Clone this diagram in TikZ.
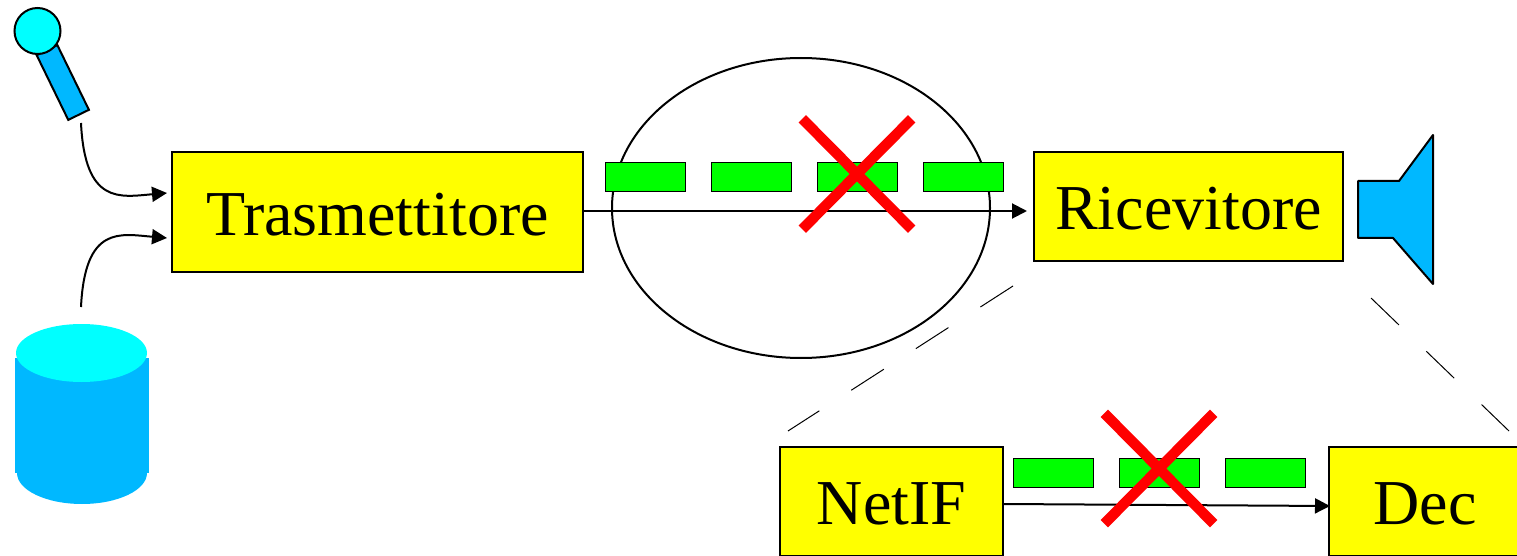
\documentclass[tikz,border=0pt]{standalone}
\usepackage{fontspec}
\setmainfont{Liberation Serif}
\usetikzlibrary{positioning}
\usetikzlibrary{arrows.meta}
\usetikzlibrary{shapes.geometric}
\usetikzlibrary{shapes.misc}
\definecolor{micblue}{HTML}{00B8FF}
\definecolor{headcyan}{HTML}{00FFFF}
\definecolor{boxyellow}{HTML}{FFFF00}
\definecolor{pktgreen}{HTML}{00FF00}
\definecolor{crossred}{HTML}{FF0000}
\tikzset{%
  flow/.style = {-{Triangle[length=7.5pt,width=7.5pt]},line width=1pt},
  box/.style = {rectangle,draw,fill=boxyellow,line width=1pt,outer sep=0pt,
        text height=23pt,text depth=0pt,
        font=\fontsize{32}{38}\selectfont},
  packet/.style = {rectangle,draw,fill=pktgreen,line width=0.5pt,outer sep=0pt,
        minimum width=40pt,minimum height=14.5pt},
  lost/.style = {cross out,draw=crossred,line width=5.2pt,inner sep=0pt,
        minimum width=49.5pt,minimum height=50pt},
  zoomline/.style = {line width=0.5pt,dash pattern=on 19.4pt off 19pt}
}

\begin{document}
\begin{tikzpicture}[x=0.5pt,y=-0.5pt,node distance=13pt]
   \useasboundingbox (0,0) rectangle (1517,556);

   % microphone
   \node[rectangle,draw,fill=micblue,line width=1pt,rotate=-64,minimum width=36pt,
        minimum height=11.5pt] (handle) at (62.8,82.5) {};
   \node[circle,draw,fill=headcyan,line width=1pt,minimum size=23pt,inner sep=0pt] (head) at (37.5,31) {};

   % disk
   \node[ellipse,fill=micblue,minimum width=65pt,minimum height=31pt,inner sep=0pt] (diskbottom) at (82,473) {};
   \node[rectangle,fill=micblue,minimum width=67pt,minimum height=57.5pt,inner sep=0pt] (diskbody) at (82,415.5) {};
   \node[ellipse,fill=headcyan,minimum width=65.5pt,minimum height=29pt,inner sep=0pt] (disktop) at (81.5,353) {};

   % channel
   \node[ellipse,draw,line width=1pt,minimum width=189pt,minimum height=150pt,inner sep=0pt] (net) at (801,208) {};

   \node[box,minimum width=205.5pt,minimum height=60pt] (tx) at (377.5,212) {Trasmettitore};
   \node[box,minimum width=154.5pt,minimum height=54.5pt] (rx) at (1188.5,206.5) {Ricevitore};
   \node[box,minimum width=111.5pt,minimum height=54.5pt] (netif) at (891.5,501.5) {NetIF};
   \node[box,minimum width=96pt,minimum height=54.5pt] (dec) at (1425,501.5) {Dec};

   % speaker
   \draw[fill=micblue,line width=1pt,line join=round] (1358,181) -- (1399,181) -- (1433,135)
        -- (1433,284) -- (1393,238) -- (1358,238) -- cycle;

   \coordinate (micout) at (81,123);
   \coordinate (txmic) at (167,193);
   \coordinate (diskout) at (81,307);
   \coordinate (txdisk) at (167,238);
   \coordinate (rxin) at (1027,211);
   \coordinate (txout) at (583,211);
   \coordinate (netifout) at (1003,504);
   \coordinate (decin) at (1330,506);

   \draw[flow] (micout) .. controls +(4,82) and +(-47,4) .. (txmic);
   \draw[flow] (diskout) .. controls +(4,-82) and +(-47,-4) .. (txdisk);
   \draw[flow] (txout) -- (rxin);
   \draw[flow] (netifout) -- (decin);

   % packets
   \node[packet] (pa) at (645.5,177.5) {};
   \node[packet] (pb) [right=of pa] {};
   \node[packet] (pc) [right=of pb] {};
   \node[packet] (pd) [right=of pc] {};
   \node[packet] (qa) at (1053.5,472.5) {};
   \node[packet] (qb) [right=of qa] {};
   \node[packet] (qc) [right=of qb] {};

   \node[lost] (lostnet) at (857,174) {};
   \node[lost] (lostrx) at (1159,468.5) {};

   \coordinate (zla) at (1013,286);
   \coordinate (zlb) at (788,431);
   \coordinate (zra) at (1371,298);
   \coordinate (zrb) at (1509,431);
   \draw[zoomline] (zla) -- (zlb);
   \draw[zoomline] (zra) -- (zrb);
\end{tikzpicture}
\end{document}
